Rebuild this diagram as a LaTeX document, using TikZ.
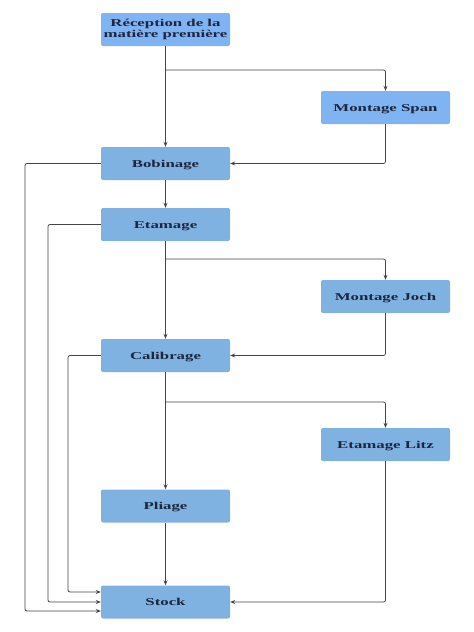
\documentclass[tikz,border=0pt]{standalone}
\usepackage{fontspec}
\setmainfont{Liberation Serif}[FakeStretch=1.6]
\usetikzlibrary{arrows.meta}
\definecolor{boxA}{HTML}{80B3F2}
\definecolor{boxB}{HTML}{7FB2E0}
\definecolor{txt}{HTML}{1C2641}
\definecolor{ln}{HTML}{454545}
\begin{document}
\begin{tikzpicture}[x=1pt,y=-1pt,
 box/.style={rectangle, rounded corners=2pt, minimum width=129pt, minimum height=33pt, inner sep=0pt, text=txt, font=\fontsize{10.5}{9}\selectfont\bfseries, align=center},
 one/.style={text height=7pt, text depth=0pt},
 conn/.style={draw=ln, line width=0.8pt, rounded corners=2pt, -{Stealth[length=5pt,width=4pt]}}]
\useasboundingbox (0,0) rectangle (474,632);
\node[box, fill=boxA] (rec) at (165.5,29.5) {Réception de la\\matière première};
\node[box, one, fill=boxA] (span) at (385.5,107.5) {Montage Span};
\node[box, one, fill=boxB] (bob) at (165.5,163.5) {Bobinage};
\node[box, one, fill=boxB] (eta) at (165.5,224.5) {Etamage};
\node[box, one, fill=boxB] (joch) at (385.5,296.5) {Montage Joch};
\node[box, one, fill=boxB] (cal) at (165.5,355.5) {Calibrage};
\node[box, one, fill=boxB] (litz) at (385.5,444.5) {Etamage Litz};
\node[box, one, fill=boxB] (pli) at (165.5,506) {Pliage};
\node[box, one, fill=boxB] (sto) at (165.5,602) {Stock};
\coordinate (b1) at (165.5,70);
\coordinate (b2) at (165.5,259);
\coordinate (b3) at (165.5,402);
\coordinate (l1) at (25,163.5);
\coordinate (l2) at (48,224.5);
\coordinate (l3) at (68,355.5);
\draw[conn] (rec) -- (bob);
\draw[conn] (b1) -| (span.north);
\draw[conn] (span.south) |- (bob.east);
\draw[conn] (bob) -- (eta);
\draw[conn] (eta) -- (cal);
\draw[conn] (b2) -| (joch.north);
\draw[conn] (joch.south) |- (cal.east);
\draw[conn] (cal) -- (pli);
\draw[conn] (b3) -| (litz.north);
\draw[conn] (litz.south) |- (sto.east);
\draw[conn] (pli) -- (sto);
\draw[conn] (bob.west) -- (l1) |- ([yshift=-9pt]sto.west);
\draw[conn] (eta.west) -- (l2) |- (sto.west);
\draw[conn] (cal.west) -- (l3) |- ([yshift=10pt]sto.west);
\end{tikzpicture}
\end{document}
